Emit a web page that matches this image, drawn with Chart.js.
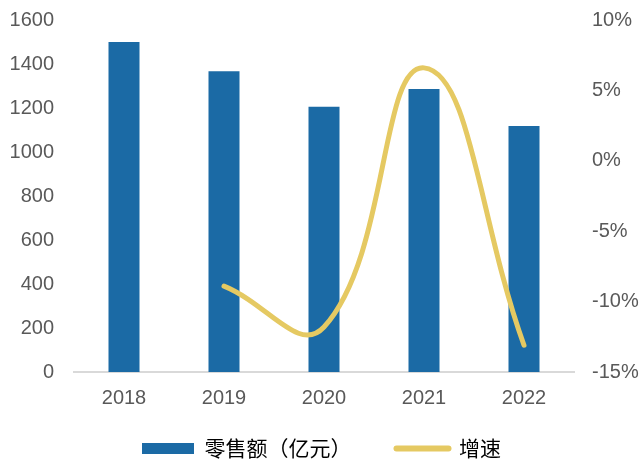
<!DOCTYPE html>
<html>
<head>
<meta charset="utf-8">
<script src="https://cdn.jsdelivr.net/npm/chart.js@4/dist/chart.umd.min.js"></script>
<style>
  body { margin: 0; background: #fff; }
  #wrap { width: 643px; height: 461px; }
</style>
</head>
<body>
<div id="wrap"><canvas id="sales"></canvas></div>
<script>
var years = ["2018", "2019", "2020", "2021", "2022"];
var retailSales = [1500, 1367, 1206, 1286, 1118];   // 亿元
var growthRate = [null, -8.9, -11.8, 6.6, -13.1];    // %
var leftTicks = [0, 200, 400, 600, 800, 1000, 1200, 1400, 1600];
var rightTicks = [-15, -10, -5, 0, 5, 10];

var barColor = '#1B6AA5';
var lineColor = '#E5C962';
var tickFont = { family: 'Liberation Sans, Arial', size: 20 };

// y axes: fixed width, no extra vertical padding from the tick labels
function fixYAxis(width) {
    return function (scale) {
        scale.width = width;
        scale.paddingTop = 0;
        scale.paddingBottom = 0;
    };
}

// pull the legend up closer to the year labels
var legendLift = {
    id: 'legendLift',
    afterLayout: function (chart) {
        chart.legend.top -= 31;
        chart.legend.bottom -= 31;
    }
};

var ctx = document.getElementById('sales').getContext('2d');

var data = {
    labels: years,
    datasets: [{
        type: 'bar',
        label: '零售额（亿元）',
        data: retailSales,
        backgroundColor: barColor,
        barPercentage: 0.31,
        categoryPercentage: 1,
        yAxisID: 'y',
        order: 2
    }, {
        type: 'line',
        label: '增速',
        data: growthRate,
        borderColor: lineColor,
        borderWidth: 5,
        borderCapStyle: 'round',
        tension: 0.45,
        pointRadius: 0,
        fill: false,
        yAxisID: 'y1',
        order: 1
    }]
};

var options = {
    responsive: true,
    maintainAspectRatio: false,
    animation: false,
    layout: { padding: { left: 0, right: 0, top: 20, bottom: -39 } },
    plugins: {
        tooltip: { enabled: false },
        legend: {
            display: true,
            position: 'bottom',
            labels: {
                usePointStyle: true,
                pointStyleWidth: 52,
                boxHeight: 11,
                padding: 45,
                color: '#404040',
                font: { family: 'Noto Sans CJK SC', size: 21 },
                generateLabels: function (chart) {
                    return [{
                        text: '零售额（亿元）',
                        pointStyle: 'rect',
                        fillStyle: barColor,
                        strokeStyle: barColor,
                        lineWidth: 0,
                        datasetIndex: 0
                    }, {
                        text: '增速',
                        pointStyle: 'line',
                        fillStyle: lineColor,
                        strokeStyle: lineColor,
                        lineWidth: 6,
                        lineCap: 'round',
                        datasetIndex: 1
                    }];
                }
            }
        }
    },
    scales: {
        x: {
            grid: { display: false, drawTicks: false },
            border: { display: true, color: '#D9D9D9', width: 2 },
            ticks: { color: '#595959', font: tickFont, padding: 14 }
        },
        y: {
            position: 'left',
            min: 0,
            max: 1600,
            afterBuildTicks: function (axis) {
                axis.ticks = leftTicks.map(function (v) { return { value: v }; });
            },
            grid: { display: false, drawTicks: false },
            border: { display: false },
            ticks: {
                color: '#595959',
                font: tickFont,
                padding: 20,
                callback: function (v) { return String(v); }
            },
            afterFit: fixYAxis(74)
        },
        y1: {
            position: 'right',
            min: -15,
            max: 10,
            afterBuildTicks: function (axis) {
                axis.ticks = rightTicks.map(function (v) { return { value: v }; });
            },
            grid: { display: false, drawTicks: false },
            border: { display: false },
            ticks: {
                color: '#595959',
                font: tickFont,
                padding: 18,
                callback: function (v) { return v + '%'; }
            },
            afterFit: fixYAxis(69)
        }
    }
};

var salesChart = new Chart(ctx, {
    type: 'bar',
    data: data,
    options: options,
    plugins: [legendLift]
});
</script>
</body>
</html>
